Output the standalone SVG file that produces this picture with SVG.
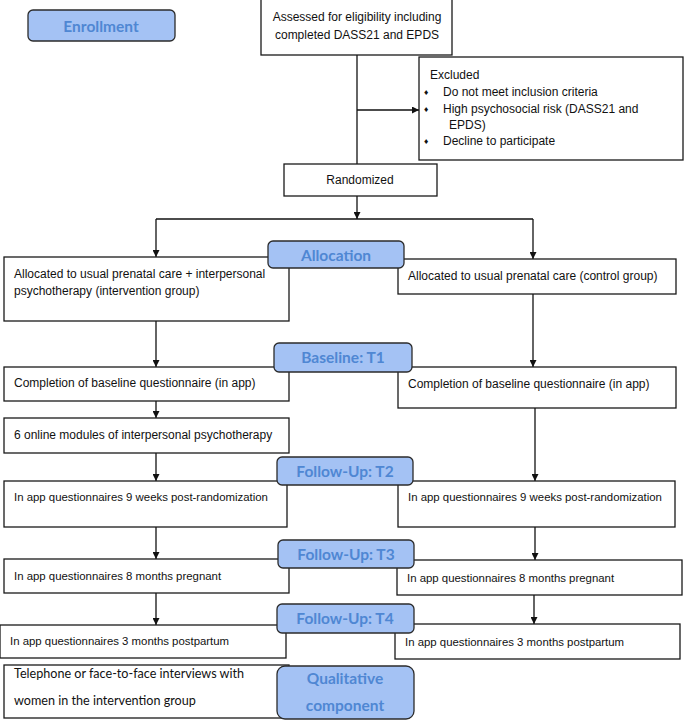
<svg xmlns="http://www.w3.org/2000/svg" width="685" height="720" viewBox="0 0 685 720">
<style>
.box{fill:#fff;stroke:#1a1a1a;stroke-width:1.3}
.lab{fill:#a4c2f4;stroke:#2b2b2b;stroke-width:1.3}
.t{font-family:"Liberation Sans",Arial,sans-serif;font-size:12px;fill:#111;dominant-baseline:central}
.n{font-size:11.4px}
.c{font-family:Lato,"Open Sans",sans-serif;font-size:12.6px;fill:#111;dominant-baseline:central}
.lt{font-family:Lato,"Open Sans",sans-serif;font-weight:bold;font-size:15.5px;fill:#4f87d3;text-anchor:middle;dominant-baseline:central}
.ln{fill:none;stroke:#111;stroke-width:1.3}
</style>
<defs>
<marker id="ah" viewBox="0 0 8 8" refX="8" refY="4" markerWidth="7" markerHeight="7" markerUnits="userSpaceOnUse" orient="auto">
<path d="M0,0 L8,4 L0,8 z" fill="#111"/>
</marker>
</defs>
<g id="connectors">
<path class="ln" d="M357,55 V164"/>
<path class="ln" d="M357,110 H419" marker-end="url(#ah)"/>
<path class="ln" d="M357,196 V219" marker-end="url(#ah)"/>
<path class="ln" d="M156,219 H533"/>
<path class="ln" d="M156,219 V257" marker-end="url(#ah)"/>
<path class="ln" d="M533,219 V259" marker-end="url(#ah)"/>
<path class="ln" d="M156,321 V367" marker-end="url(#ah)"/>
<path class="ln" d="M156,401 V418" marker-end="url(#ah)"/>
<path class="ln" d="M156,453 V481" marker-end="url(#ah)"/>
<path class="ln" d="M156,527 V559" marker-end="url(#ah)"/>
<path class="ln" d="M156,593 V625" marker-end="url(#ah)"/>
<path class="ln" d="M533,294 V367" marker-end="url(#ah)"/>
<path class="ln" d="M535,408 V481" marker-end="url(#ah)"/>
<path class="ln" d="M535,527 V560" marker-end="url(#ah)"/>
<path class="ln" d="M534,595 V624" marker-end="url(#ah)"/>
</g>
<g id="assessed">
<rect class="box" x="261" y="-1" width="191" height="56"/>
<text class="t" x="357" y="17" text-anchor="middle">Assessed for eligibility including</text>
<text class="t" x="357" y="35" text-anchor="middle">completed DASS21 and EPDS</text>
</g>
<g id="excluded">
<rect class="box" x="419" y="57" width="264" height="103"/>
<text class="t" x="430" y="75">Excluded</text>
<text class="t" x="424" y="92"><tspan font-size="8.5">♦</tspan><tspan x="443">Do not meet inclusion criteria</tspan></text>
<text class="t" x="424" y="109"><tspan font-size="8.5">♦</tspan><tspan x="443">High psychosocial risk (DASS21 and</tspan></text>
<text class="t" x="449" y="125">EPDS)</text>
<text class="t" x="424" y="141"><tspan font-size="8.5">♦</tspan><tspan x="443">Decline to participate</tspan></text>
</g>
<g id="randomized">
<rect class="box" x="284" y="164" width="153" height="32"/>
<text class="t" x="360" y="180" text-anchor="middle">Randomized</text>
</g>
<g id="alloc-int">
<rect class="box" x="4" y="257" width="285" height="64"/>
<text class="t" x="14" y="274">Allocated to usual prenatal care + interpersonal</text>
<text class="t" x="14" y="291">psychotherapy (intervention group)</text>
</g>
<g id="alloc-ctl">
<rect class="box" x="398" y="259" width="278" height="35"/>
<text class="t" x="408" y="276">Allocated to usual prenatal care (control group)</text>
</g>
<g id="base-int">
<rect class="box" x="4" y="367" width="285" height="34"/>
<text class="t" x="14" y="383">Completion of baseline questionnaire (in app)</text>
</g>
<g id="base-ctl">
<rect class="box" x="398" y="367" width="278" height="41"/>
<text class="t" x="408" y="384">Completion of baseline questionnaire (in app)</text>
</g>
<g id="modules">
<rect class="box" x="4" y="418" width="285" height="35"/>
<text class="t" x="14" y="435">6 online modules of interpersonal psychotherapy</text>
</g>
<g id="t2-int">
<rect class="box" x="4" y="481" width="283" height="46"/>
<text class="t n" x="14" y="497">In app questionnaires 9 weeks post-randomization</text>
</g>
<g id="t2-ctl">
<rect class="box" x="398" y="481" width="277" height="46"/>
<text class="t n" x="408" y="497">In app questionnaires 9 weeks post-randomization</text>
</g>
<g id="t3-int">
<rect class="box" x="4" y="559" width="285" height="34"/>
<text class="t n" x="14" y="576">In app questionnaires 8 months pregnant</text>
</g>
<g id="t3-ctl">
<rect class="box" x="397" y="560" width="285" height="35"/>
<text class="t n" x="407" y="578">In app questionnaires 8 months pregnant</text>
</g>
<g id="t4-int">
<rect class="box" x="0" y="625" width="286" height="33"/>
<text class="t n" x="10" y="641">In app questionnaires 3 months postpartum</text>
</g>
<g id="t4-ctl">
<rect class="box" x="395" y="624" width="285" height="35"/>
<text class="t n" x="405" y="642">In app questionnaires 3 months postpartum</text>
</g>
<g id="qual-box">
<rect class="box" x="4" y="665" width="285" height="53"/>
<text class="c" x="14" y="673">Telephone or face-to-face interviews with</text>
<text class="c" x="14" y="700">women in the intervention group</text>
</g>
<g id="enrollment">
<rect class="lab" x="28" y="10" width="147" height="31" rx="5"/>
<text class="lt" x="101" y="26">Enrollment</text>
</g>
<g id="allocation">
<rect class="lab" x="268" y="241" width="136" height="27" rx="5"/>
<text class="lt" x="336" y="255">Allocation</text>
</g>
<g id="baseline">
<rect class="lab" x="274" y="343" width="138" height="29" rx="5"/>
<text class="lt" x="343" y="357">Baseline: T1</text>
</g>
<g id="followup-t2">
<rect class="lab" x="277" y="457" width="136" height="28" rx="5"/>
<text class="lt" x="345" y="471">Follow-Up: T2</text>
</g>
<g id="followup-t3">
<rect class="lab" x="278" y="540" width="136" height="28" rx="5"/>
<text class="lt" x="346" y="554">Follow-Up: T3</text>
</g>
<g id="followup-t4">
<rect class="lab" x="277" y="604" width="137" height="29" rx="5"/>
<text class="lt" x="345" y="618">Follow-Up: T4</text>
</g>
<g id="qualitative">
<rect class="lab" x="277" y="666" width="137" height="53" rx="8"/>
<text class="lt" x="345" y="678">Qualitative</text>
<text class="lt" x="345" y="705">component</text>
</g>
</svg>
